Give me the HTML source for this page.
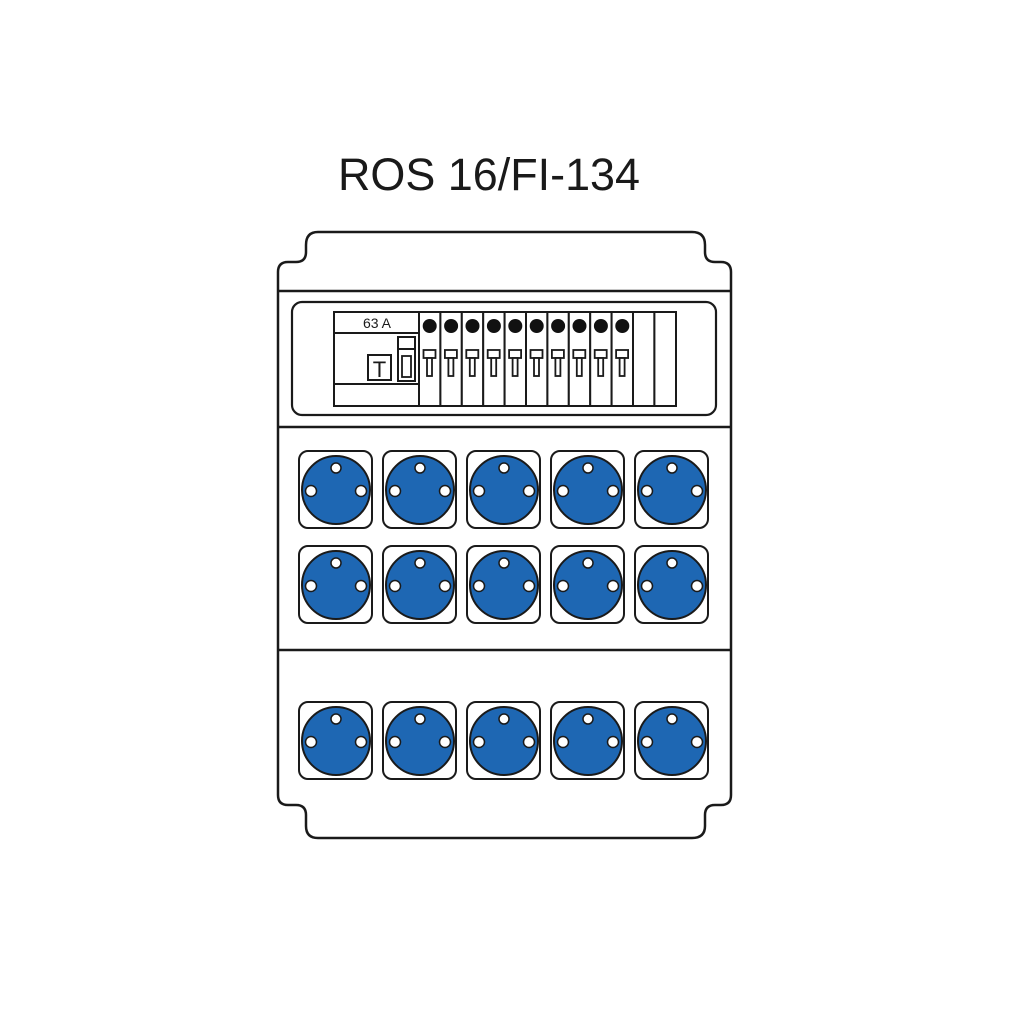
<!DOCTYPE html>
<html><head><style>
html,body{margin:0;padding:0;background:#fff;}
svg{display:block;}
</style></head><body>
<svg width="1010" height="1010" viewBox="0 0 1010 1010" xmlns="http://www.w3.org/2000/svg">
<defs>
<g id="sock">
<rect x="0" y="0" width="73" height="77" rx="9" fill="#fff" stroke="#1a1a1a" stroke-width="2"/>
<circle cx="37" cy="39" r="34" fill="#1e67b3" stroke="#1a1a1a" stroke-width="2"/>
<circle cx="37" cy="17" r="5" fill="#fff" stroke="#1a1a1a" stroke-width="1.5"/>
<circle cx="12" cy="40" r="5.5" fill="#fff" stroke="#1a1a1a" stroke-width="1.5"/>
<circle cx="62" cy="40" r="5.5" fill="#fff" stroke="#1a1a1a" stroke-width="1.5"/>
</g>
<g id="mod">
<rect x="0" y="0" width="21.4" height="94" fill="#fff" stroke="#1a1a1a" stroke-width="2"/>
<circle cx="10.7" cy="14" r="7" fill="#111"/>
<rect x="4.5" y="38" width="12" height="8" fill="#fff" stroke="#1a1a1a" stroke-width="1.8"/>
<rect x="8" y="46" width="5" height="18" fill="#fff" stroke="#1a1a1a" stroke-width="1.8"/>
</g>
</defs>
<text x="489" y="190" font-family="Liberation Sans, sans-serif" font-size="45" text-anchor="middle" fill="#1a1a1a" textLength="302" lengthAdjust="spacingAndGlyphs">ROS 16/FI-134</text>
<path d="M318 232 H692 Q705 232 705 245 V252 Q705 262 715 262 H721 Q731 262 731 272 V795 Q731 805 721 805 H715 Q705 805 705 815 V826 Q705 838 692 838 H318 Q306 838 306 826 V815 Q306 805 296 805 H288 Q278 805 278 795 V272 Q278 262 288 262 H296 Q306 262 306 252 V245 Q306 232 318 232 Z" fill="#fff" stroke="#1a1a1a" stroke-width="2.5"/>
<line x1="278" y1="291" x2="731" y2="291" stroke="#1a1a1a" stroke-width="2.5"/>
<rect x="292" y="302" width="424" height="113" rx="10" fill="#fff" stroke="#1a1a1a" stroke-width="2.2"/>
<line x1="278" y1="427" x2="731" y2="427" stroke="#1a1a1a" stroke-width="2.5"/>
<line x1="278" y1="650" x2="731" y2="650" stroke="#1a1a1a" stroke-width="2.5"/>
<rect x="334" y="312" width="85" height="94" fill="#fff" stroke="#1a1a1a" stroke-width="2"/>
<line x1="334" y1="333" x2="419" y2="333" stroke="#1a1a1a" stroke-width="2"/>
<line x1="334" y1="384" x2="419" y2="384" stroke="#1a1a1a" stroke-width="2"/>
<text x="377" y="328" font-family="Liberation Sans, sans-serif" font-size="14" text-anchor="middle" fill="#1a1a1a">63 A</text>
<rect x="368" y="355" width="23" height="25" fill="#fff" stroke="#1a1a1a" stroke-width="2"/>
<text x="379.5" y="377" font-family="Liberation Sans, sans-serif" font-size="22" text-anchor="middle" fill="#1a1a1a">T</text>
<rect x="398" y="337" width="17" height="44" fill="#fff" stroke="#1a1a1a" stroke-width="2"/>
<line x1="398" y1="349" x2="415" y2="349" stroke="#1a1a1a" stroke-width="2"/>
<rect x="402" y="356" width="9" height="21" fill="#fff" stroke="#1a1a1a" stroke-width="1.8"/>
<use href="#mod" x="419" y="312"/>
<use href="#mod" x="440.4" y="312"/>
<use href="#mod" x="461.8" y="312"/>
<use href="#mod" x="483.2" y="312"/>
<use href="#mod" x="504.6" y="312"/>
<use href="#mod" x="526" y="312"/>
<use href="#mod" x="547.4" y="312"/>
<use href="#mod" x="568.8" y="312"/>
<use href="#mod" x="590.2" y="312"/>
<use href="#mod" x="611.6" y="312"/>
<rect x="633" y="312" width="21.4" height="94" fill="#fff" stroke="#1a1a1a" stroke-width="2"/>
<rect x="654.4" y="312" width="21.6" height="94" fill="#fff" stroke="#1a1a1a" stroke-width="2"/>
<use href="#sock" x="299" y="451"/><use href="#sock" x="383" y="451"/><use href="#sock" x="467" y="451"/><use href="#sock" x="551" y="451"/><use href="#sock" x="635" y="451"/>
<use href="#sock" x="299" y="546"/><use href="#sock" x="383" y="546"/><use href="#sock" x="467" y="546"/><use href="#sock" x="551" y="546"/><use href="#sock" x="635" y="546"/>
<use href="#sock" x="299" y="702"/><use href="#sock" x="383" y="702"/><use href="#sock" x="467" y="702"/><use href="#sock" x="551" y="702"/><use href="#sock" x="635" y="702"/>
</svg>
</body></html>
